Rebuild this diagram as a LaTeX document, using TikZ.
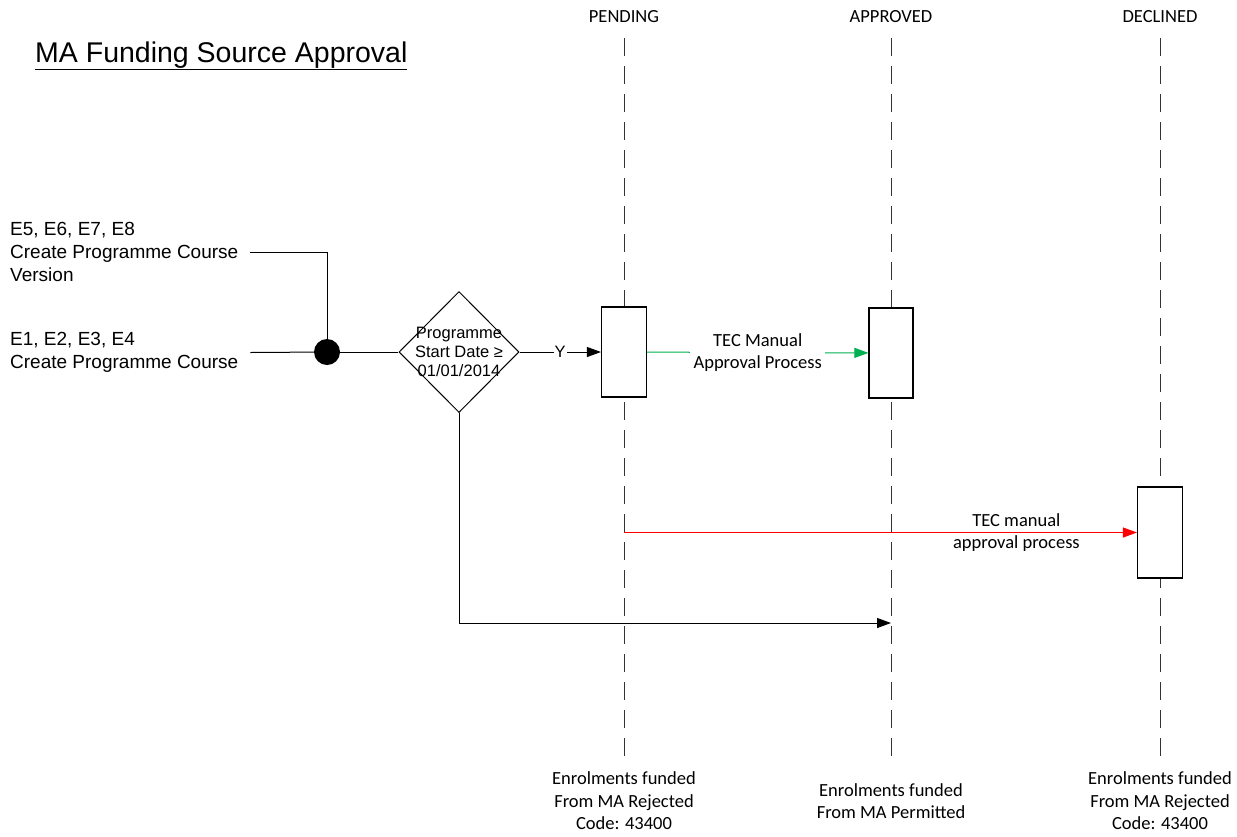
\documentclass[tikz,border=0pt]{standalone}
\usepackage{fontspec}
\setmainfont{Liberation Sans}
\newfontfamily\calib{Carlito}
\usetikzlibrary{shapes.geometric,arrows.meta}
\definecolor{approve}{RGB}{0,176,80}
\begin{document}
\begin{tikzpicture}[x=1pt,y=-1pt]
	\tikzstyle{lane}=[font=\calib\fontsize{18.5}{22.5}\selectfont,align=center]
	\tikzstyle{lifeline}=[draw=black!80,line width=1pt,dash pattern=on 18pt off 10pt]
	\tikzstyle{activity}=[rectangle,draw=black,line width=1.1pt,fill=white,minimum width=45pt,minimum height=90pt]
	\tikzstyle{source}=[font=\fontsize{19}{23}\selectfont,align=left,anchor=west,inner sep=0pt]
	\tikzstyle{edge}=[draw,line width=1pt]
	\tikzstyle{arrow}=[edge,-{Triangle[length=14pt,width=10pt]}]
	\useasboundingbox (0,0) rectangle (1237,836);
	\begin{scope}
		\node [anchor=base west,inner sep=0pt,font=\fontsize{28.5}{34}\selectfont] (title) at (35,62) {\underline{MA Funding Source Approval}};
		\node [lane] (pending) at (624,17) {PENDING};
		\node [lane] (approved) at (891,17) {APPROVED};
		\node [lane] (declined) at (1160,17) {DECLINED};
		\coordinate (pendtop) at (624,38);
		\coordinate (pendend) at (624,757);
		\coordinate (apprtop) at (891,38);
		\coordinate (apprend) at (891,757);
		\coordinate (decltop) at (1160,38);
		\coordinate (declend) at (1160,757);
		\path[lifeline] (pendtop) -- (pendend);
		\path[lifeline] (apprtop) -- (apprend);
		\path[lifeline] (decltop) -- (declend);
		\node [activity] (pendbox) at (624,352) {};
		\node [activity,minimum width=44pt] (apprbox) at (891,353) {};
		\node [activity,minimum height=91pt] (declbox) at (1160,532.5) {};
		\node [lane] (pendnote) at (624,801) {Enrolments funded\\From MA Rejected\\Code: 43400};
		\node [lane] (apprnote) at (891,801) {Enrolments funded\\From MA Permitted};
		\node [lane] (declnote) at (1160,801) {Enrolments funded\\From MA Rejected\\Code: 43400};
		\node [source] (version) at (10,252) {E5, E6, E7, E8\\Create Programme Course\\Version};
		\node [source] (course) at (10,352.5) {E1, E2, E3, E4\\Create Programme Course};
		\node [circle,fill=black,minimum size=26pt,inner sep=0pt] (junction) at (327,352) {};
		\node [diamond,draw,line width=1pt,minimum width=120pt,minimum height=121pt,inner sep=0pt] (startdate) at (459,352) {};
		\node [align=center,font=\fontsize{16.5}{19}\selectfont] (startlbl) at (startdate.center) {Programme\\Start Date ≥\\01/01/2014};
		\coordinate (declstart) at (pendbox.center |- declbox.west);
		\coordinate (apprmeet) at (891,623);
		\path[edge] ([xshift=12pt]version.east) -| (junction);
		\path[edge] ([xshift=12pt]course.east) -- (junction);
		\path[edge] (junction) -- (startdate);
		\path[arrow] (startdate) -- node[fill=white,inner sep=1pt,font=\fontsize{16.5}{19}\selectfont] {Y} (pendbox);
		\path[arrow,draw=approve] (pendbox) -- node[lane,fill=white] {TEC Manual\\Approval Process} (apprbox);
		\path[arrow,draw=red] (declstart) -- node[lane,pos=0.765] {TEC manual\\approval process} (declbox);
		\path[arrow] (startdate) |- (apprmeet);
	\end{scope}
\end{tikzpicture}
\end{document}
